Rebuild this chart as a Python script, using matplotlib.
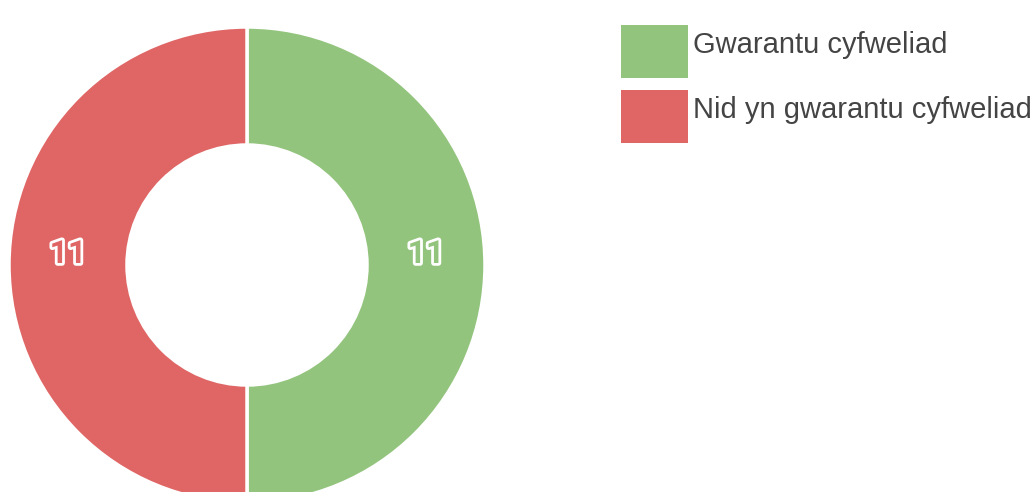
import matplotlib
matplotlib.use("Agg")
import matplotlib.pyplot as plt
import matplotlib.patheffects as pe
import numpy as np
from matplotlib.patches import Rectangle

labels = ["Gwarantu cyfweliad", "Nid yn gwarantu cyfweliad"]
values = [11, 11]
colors = ["#93c47d", "#e06666"]

W, H = 1035, 492
fig = plt.figure(figsize=(W / 100, H / 100), dpi=100)
ax = fig.add_axes([0, 0, 1, 1])

# donut (pixel coords, y measured from bottom)
cx, cy = 247, H - 265
r_out, r_in = 238, 120
wedges, _ = ax.pie(values, colors=colors, startangle=90, counterclock=False,
                   radius=r_out, center=(cx, cy), frame=True,
                   wedgeprops=dict(width=r_out - r_in, edgecolor="white", linewidth=2.5))
ax.set_xlim(0, W)
ax.set_ylim(0, H)
ax.set_aspect("equal")
ax.axis("off")

# value labels in the middle of each ring segment
r_mid = (r_out + r_in) / 2
for w, v, c in zip(wedges, values, colors):
    ang = np.deg2rad((w.theta1 + w.theta2) / 2)
    x = cx + r_mid * np.cos(ang)
    y = cy + r_mid * np.sin(ang) + 11
    ax.text(x, y, str(v), ha="center", va="center", fontsize=23, fontweight="bold",
            color=c, family="Roboto",
            path_effects=[pe.Stroke(linewidth=4, foreground="white"), pe.Normal()])

# legend
for i, (lab, c) in enumerate(zip(labels, colors)):
    top = 25 + i * 65
    ax.add_patch(Rectangle((621, H - top - 53), 67, 53, facecolor=c, edgecolor="none"))
    ax.text(693, H - (top + 28), lab, ha="left", va="baseline", fontsize=21,
            color="#444444", family="Liberation Sans")

fig.savefig("out.png", dpi=100)
